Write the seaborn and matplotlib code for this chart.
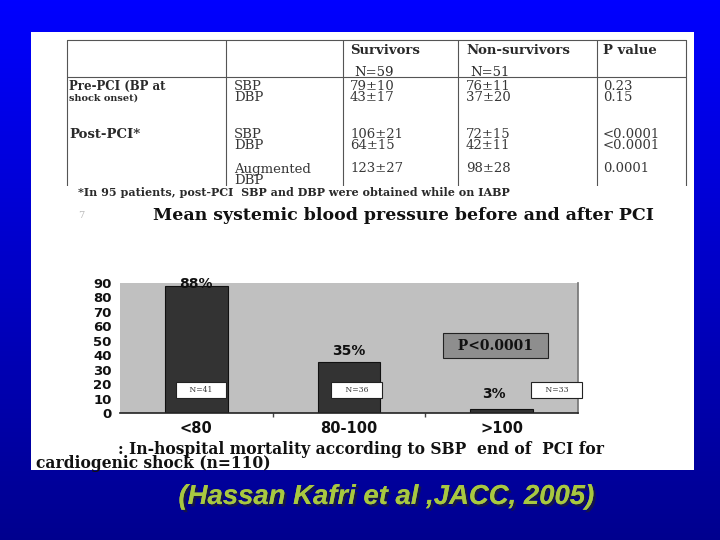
import numpy as np
import matplotlib
matplotlib.use('Agg')
import matplotlib.pyplot as plt
import matplotlib.patheffects as pe
from matplotlib.patches import Rectangle
import seaborn as sns

sns.set_theme(style='white')
plt.rcParams['font.family'] = ['Liberation Sans', 'DejaVu Sans']

# bar chart data
groups = ['<80', '80-100', '>100']
mortality = [88, 35, 3]
pct_labels = ['88%', '35%', '3%']
pct_x = [0, 1, 1.95]
pct_y = [89.5, 43, 13.5]
n_labels = ['N=41', 'N=36', 'N=33']
n_x = [0.03, 1.05, 2.36]
n_y = [16, 16, 16]
p_text = 'P<0.0001'

# table data
col_heads = ['Survivors', 'Non-survivors', 'P value']
col_n = ['N=59', 'N=51', '']
measures = [['SBP', 'DBP'], ['SBP', 'DBP'], ['Augmented', 'DBP']]
survivors = [['79±10', '43±17'], ['106±21', '64±15'], ['123±27', '']]
non_survivors = [['76±11', '37±20'], ['72±15', '42±11'], ['98±28', '']]
p_values = [['0.23', '0.15'], ['<0.0001', '<0.0001'], ['0.0001', '']]
footnote = '*In 95 patients, post-PCI  SBP and DBP were obtained while on IABP'
title1 = 'Mean systemic blood pressure before and after PCI'
caption1 = ': In-hospital mortality according to SBP  end of  PCI for'
caption2 = 'cardiogenic shock (n=110)'
citation = '(Hassan Kafri et al ,JACC, 2005)'

fig = plt.figure(figsize=(7.2, 5.4), dpi=100)

# slide background, pixel coords
bg = fig.add_axes([0, 0, 1, 1])
bg.set_xlim(0, 720)
bg.set_ylim(540, 0)
bg.axis('off')
grad = np.linspace(1.0, 0.56, 256)[:, None]
cols = np.zeros((256, 1, 3))
cols[:, :, 2] = grad
bg.imshow(cols, extent=[0, 720, 540, 0], aspect='auto')
bg.add_patch(Rectangle((31, 32), 663, 438, facecolor='white', edgecolor='none'))

serif = ['DejaVu Serif']
tc = '#2a2a2a'

# table lines
lc = '#555555'
bg.plot([67, 686], [40, 40], color=lc, lw=0.8)
bg.plot([67, 686], [77, 77], color=lc, lw=0.8)
for xv in [67, 226, 343, 458, 597, 686]:
    bg.plot([xv, xv], [40, 186], color=lc, lw=0.8)

col_x = [350, 466, 603]
for i in range(3):
    bg.text(col_x[i], 50, col_heads[i], family=serif, fontsize=9.5, weight='bold', color=tc, va='center')
    bg.text(col_x[i] + 4, 72, col_n[i], family=serif, fontsize=9.5, color=tc, va='center')

bg.text(69, 86, 'Pre-PCI (BP at', family=serif, fontsize=8.5, weight='bold', color=tc, va='center')
bg.text(69, 98, 'shock onset)', family=serif, fontsize=7, weight='bold', color=tc, va='center')
bg.text(69, 134, 'Post-PCI*', family=serif, fontsize=9.5, weight='bold', color=tc, va='center')

row_y = [86, 134, 169]
for r in range(3):
    for k in range(2):
        yy = row_y[r] + 11.5 * k
        bg.text(234, yy, measures[r][k], family=serif, fontsize=9.5, color='#383838', va='center')
        bg.text(350, yy, survivors[r][k], family=serif, fontsize=9.5, color='#383838', va='center')
        bg.text(466, yy, non_survivors[r][k], family=serif, fontsize=9.5, color='#383838', va='center')
        bg.text(603, yy, p_values[r][k], family=serif, fontsize=9.5, color='#383838', va='center')

# white strip cuts the table bottom like in the slide
bg.add_patch(Rectangle((60, 186), 634, 10, facecolor='white', edgecolor='none', zorder=3))
bg.text(78, 192, footnote, family=serif, fontsize=8, weight='bold', color=tc, va='center', zorder=4)
bg.text(403, 215, title1, family=serif, fontsize=12.5, weight='bold', color='#111111', va='center', ha='center')
bg.text(78, 215, '7', family=serif, fontsize=7, color='#bbbbbb', va='center')
bg.text(118, 449, caption1, family=serif, fontsize=11.2, weight='bold', color='#111111', va='center')
bg.text(36, 464, caption2, family=serif, fontsize=11.2, weight='bold', color='#111111', va='center')

shadow = [pe.withSimplePatchShadow(offset=(1.8, -1.8), shadow_rgbFace='#15154a', alpha=1.0), pe.Normal()]
bg.text(386, 497, citation, fontsize=19.8, weight='bold', style='italic', color='#a8c840',
        ha='center', va='center', path_effects=shadow)

# bar chart
sans = ['DejaVu Sans']
ax = fig.add_axes([120 / 720, 1 - 413 / 540, 458 / 720, 130 / 540])
ax.set_facecolor('#c0c0c0')
sns.barplot(x=groups, y=mortality, color='#333333', width=0.41, saturation=1,
            edgecolor='#111111', linewidth=0.8, ax=ax)
ax.set_xlim(-0.5, 2.5)
ax.set_ylim(0, 90)
ax.set_yticks(range(0, 91, 10))
ax.set_xticks([0.5, 1.5], minor=True)
ax.tick_params(axis='both', which='major', length=0, pad=6)
ax.tick_params(axis='x', which='minor', bottom=True, length=3, width=1, color='#444444', direction='out')
for lab in ax.get_yticklabels():
    lab.set_fontproperties({'family': sans, 'weight': 'bold', 'size': 9.5})
    lab.set_color('#111111')
for lab in ax.get_xticklabels():
    lab.set_fontproperties({'family': sans, 'weight': 'bold', 'size': 10.5})
    lab.set_color('#111111')
ax.set_xlabel('')
ax.set_ylabel('')
for s in ['top', 'left']:
    ax.spines[s].set_visible(False)
ax.spines['bottom'].set_color('#222222')
ax.spines['bottom'].set_linewidth(1.2)
ax.spines['right'].set_color('#777777')

for i in range(3):
    ax.text(pct_x[i], pct_y[i], pct_labels[i], ha='center', va='center', fontsize=10,
            family=sans, weight='bold', color='#111111', clip_on=False)
    ax.text(n_x[i], n_y[i], '    ' + n_labels[i] + '    ', ha='center', va='center', fontsize=5.5,
            family=serif, color='#333333', clip_on=False,
            bbox=dict(boxstyle='square,pad=0.55', facecolor='white', edgecolor='#222222', linewidth=0.8))

ax.text(1.96, 46.5, '  ' + p_text + '  ', ha='center', va='center', fontsize=10, weight='bold', family=serif,
        color='#111111', bbox=dict(boxstyle='square,pad=0.4', facecolor='#8e8e8e', edgecolor='#222222',
                                   linewidth=0.8))

fig.savefig('out.png', dpi=100)
